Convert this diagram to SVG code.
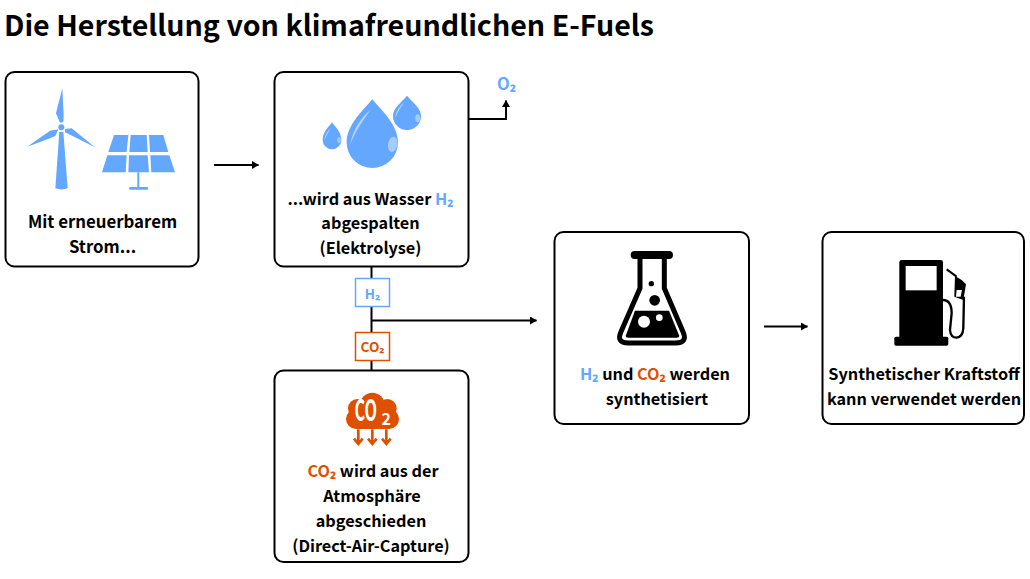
<svg xmlns="http://www.w3.org/2000/svg" width="1030" height="579" viewBox="0 0 1030 579">
<style>
text{font-family:"Noto Sans CJK SC","Noto Sans",sans-serif;font-weight:700;fill:#000}
.l{font-size:16.250px;text-anchor:middle}
.b{fill:#64a7ff}.o{fill:#e04f00}
.box{fill:#fff;stroke:#000;stroke-width:2}
.c{fill:none;stroke:#000;stroke-width:2}
</style>
<defs><marker id="a" markerWidth="8" markerHeight="8" refX="6.500" refY="4" orient="auto" markerUnits="userSpaceOnUse"><path d="M0 0L7 4L0 8Z" fill="#000"/></marker></defs>
<rect width="1030" height="579" fill="#fff"/>
<text id="title" x="4" y="36" font-size="28.600">Die Herstellung von klimafreundlichen E-Fuels</text>
<g id="connectors">
<path class="c" d="M214 165H258.500" marker-end="url(#a)"/>
<path class="c" d="M469 119H506V100.500" marker-end="url(#a)"/>
<path class="c" d="M371.500 266V371"/>
<path class="c" d="M371.500 320.500H536.500" marker-end="url(#a)"/>
<path class="c" d="M764 326.500H807.500" marker-end="url(#a)"/>
</g>
<g id="node-strom">
<rect class="box" x="5.500" y="72" width="193" height="194.500" rx="9"/>
<g class="b" transform="translate(0 60) scale(.3333)">
<path d="M187 85L191 165L190 186L180 188L168 160Z"/>
<path d="M82 260L150 212L175 208L166 228L150 235Z"/>
<path d="M285 262L215 205L195 207L195 217L212 225Z"/>
<path d="M178 216H190L203 385Q185 392 166 385Z"/>
<circle cx="184" cy="202" r="9"/>
<path d="M342 225H385L380 276H325ZM392 225H440L443 276H388ZM447 225H490L505 276H450ZM322 286H380L377 337H306ZM387 286H443L447 337H385ZM451 286H508L525 337H454Z"/>
<path d="M412 337H418V381H443Q447 385 443 389H389Q385 385 389 381H412Z"/>
</g>
<text class="l" x="102.500" y="228" style="font-size:16.800px">Mit erneuerbarem</text>
<text class="l" x="102.500" y="253" style="font-size:16.800px">Strom...</text>
</g>
<g id="node-elektrolyse">
<rect class="box" x="274.500" y="72" width="194" height="194.500" rx="9"/>
<g transform="translate(270 60) scale(.3333)">
<path class="b" d="M307 118C280 150 230 195 230 247A77 77 0 0 0 384 247C384 195 334 150 307 118Z"/>
<path class="b" d="M411 107C395 127 369 143 369 168A42 42 0 0 0 453 168C453 143 427 127 411 107Z"/>
<path class="b" d="M186 187C175 202 158 217 158 240A28 28 0 0 0 214 240C214 217 197 202 186 187Z"/>
<path d="M303 148C275 172 250 205 240 255C255 215 280 180 303 148Z" fill="#b8d5ff"/>
<ellipse cx="368" cy="253" rx="14" ry="23" transform="rotate(10 368 253)" fill="#a5cbff"/>
<path d="M404 125C390 138 378 152 375 175C382 158 392 142 404 125Z" fill="#b8d5ff"/>
<ellipse cx="443" cy="175" rx="7" ry="12" fill="#a5cbff"/>
<path d="M182 205C172 215 165 225 163 242C168 228 175 217 182 205Z" fill="#b8d5ff"/>
<ellipse cx="207" cy="240" rx="5" ry="9" fill="#a5cbff"/>
</g>
<text class="l" x="370.500" y="205">...wird aus Wasser <tspan class="b">H₂</tspan></text>
<text class="l" x="370.500" y="229">abgespalten</text>
<text class="l" x="370.500" y="254">(Elektrolyse)</text>
</g>
<g id="label-o2"><text class="b" x="497" y="90" font-size="16.500">O₂</text></g>
<g id="label-h2">
<rect x="355.500" y="278.500" width="34" height="28" fill="#fff" stroke="#64a7ff" stroke-width="1.500"/>
<text class="l b" x="372.500" y="299" style="font-size:13.500px">H₂</text>
</g>
<g id="label-co2">
<rect x="355.500" y="332.500" width="34" height="28" fill="#fff" stroke="#e04f00" stroke-width="1.500"/>
<text class="l o" x="372.500" y="352" style="font-size:13.500px">CO₂</text>
</g>
<g id="node-dac">
<rect class="box" x="274.500" y="370.500" width="194" height="191.500" rx="9"/>
<g transform="translate(270 270) scale(.3333)">
<g class="o"><circle cx="307" cy="405" r="37"/><circle cx="262" cy="415" r="28"/><circle cx="352" cy="415" r="28"/><circle cx="258" cy="447" r="30"/><circle cx="357" cy="447" r="30"/><rect x="258" y="410" width="100" height="67"/></g>
<path d="M265 478V520M307 478V520M349 478V520M252 506L265 522L278 506M294 506L307 522L320 506M336 506L349 522L362 506" fill="none" stroke="#e04f00" stroke-width="8"/>
</g>
<text transform="translate(354.500 421) scale(.56 1)" font-size="29" style="fill:#fff;font-weight:700">CO</text>
<text x="381.500" y="425" font-size="16" style="fill:#fff">2</text>
<text class="l" x="373" y="477"><tspan class="o">CO₂</tspan> wird aus der</text>
<text class="l" x="372" y="502">Atmosphäre</text>
<text class="l" x="371" y="527">abgeschieden</text>
<text class="l" x="371" y="552">(Direct-Air-Capture)</text>
</g>
<g id="node-synthese">
<rect class="box" x="554.500" y="232" width="194.500" height="192" rx="9"/>
<g transform="translate(550 225) scale(.3333)">
<rect x="242" y="78" width="127" height="24" rx="12"/>
<path d="M270 95V190L213 320Q198 354 235 354H377Q414 354 399 320L343 190V95" fill="none" stroke="#000" stroke-width="15"/>
<path d="M255 257H357L388 333Q388 338 380 338H235Q227 338 227 333Z"/>
<circle cx="282" cy="290" r="18" fill="#fff"/><circle cx="328" cy="278" r="10" fill="#fff"/>
<circle cx="304" cy="176" r="8"/><circle cx="314" cy="226" r="16"/>
</g>
<text class="l" x="655" y="380"><tspan class="b">H₂</tspan> und <tspan class="o">CO₂</tspan> werden</text>
<text class="l" x="657" y="405">synthetisiert</text>
</g>
<g id="node-kraftstoff">
<rect class="box" x="822.500" y="232" width="201.500" height="192" rx="9"/>
<g transform="translate(760 225) scale(.3333)">
<path d="M418 340V112Q418 105 425 105H542Q549 105 549 112V340Z"/>
<rect x="437" y="123" width="93" height="73" fill="#fff"/>
<rect x="403" y="335" width="162" height="27" rx="5"/>
<path d="M549 225Q575 225 575 265L570 315Q572 338 590 338Q608 336 610 310L612 215" fill="none" stroke="#000" stroke-width="7"/>
<path d="M560 133L590 155" fill="none" stroke="#000" stroke-width="6"/>
<path d="M585 153L605 165L618 178L610 225L583 215Z"/>
<path d="M590 195H606L602 215H588Z" fill="#fff"/>
</g>
<text class="l" x="924" y="380">Synthetischer Kraftstoff</text>
<text class="l" x="924" y="405">kann verwendet werden</text>
</g>
</svg>
